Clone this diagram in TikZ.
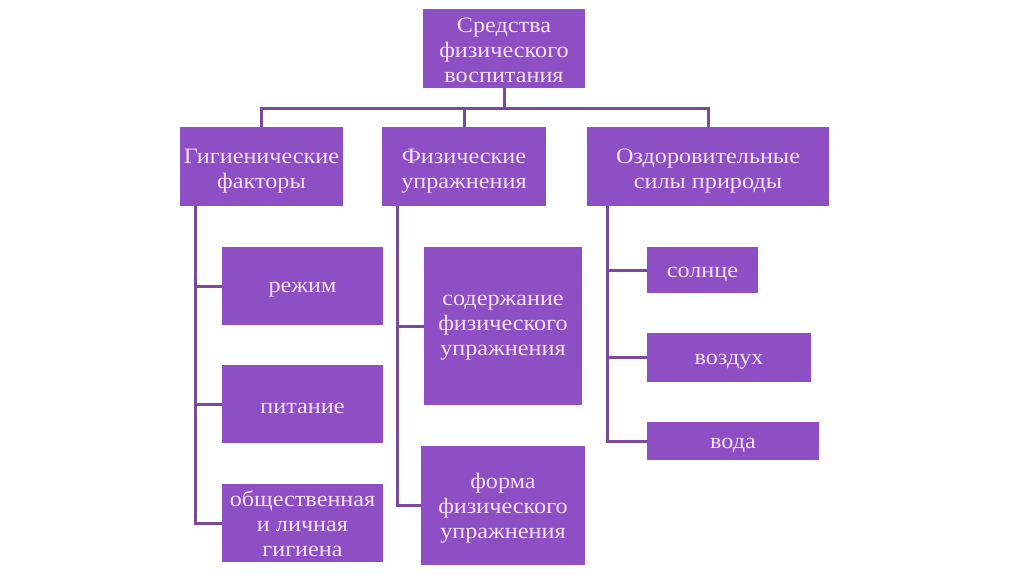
\documentclass[tikz,border=0pt]{standalone}
\usepackage{fontspec}
\setmainfont[FakeStretch=1.1]{Liberation Serif}
\definecolor{boxfill}{HTML}{8E4EC4}
\definecolor{boxtext}{HTML}{F5E0F0}
\definecolor{linec}{HTML}{7A4A9C}
\begin{document}
\begin{tikzpicture}[x=1pt,y=-1pt,
  box/.style={fill=boxfill,inner sep=0pt},
  lbl/.style={text=boxtext,inner sep=0pt,align=center,
    font=\fontsize{22}{25}\selectfont},
  conn/.style={draw=linec,line width=3pt}]
\useasboundingbox[fill=white] (0,0) rectangle (1024,574);
\node[box,minimum width=162,minimum height=79] (top) at (504,48.5) {};
\node[box,minimum width=163,minimum height=79] (L) at (261.5,166.5) {};
\node[box,minimum width=164,minimum height=79] (M) at (464,166.5) {};
\node[box,minimum width=242,minimum height=79] (R) at (708,166.5) {};
\node[box,minimum width=161,minimum height=78] (l1) at (302.5,286) {};
\node[box,minimum width=161,minimum height=78] (l2) at (302.5,404) {};
\node[box,minimum width=161,minimum height=78] (l3) at (302.5,523) {};
\node[box,minimum width=158,minimum height=158] (m1) at (503,326) {};
\node[box,minimum width=164,minimum height=119] (m2) at (503,505.5) {};
\node[box,minimum width=111,minimum height=46] (r1) at (702.5,270) {};
\node[box,minimum width=164,minimum height=49] (r2) at (729,357.5) {};
\node[box,minimum width=172,minimum height=38] (r3) at (733,441) {};
\node[lbl,yshift=-2pt] (topt) at (top.center) {Средства\\физического\\воспитания};
\node[lbl,yshift=-5pt] (Lt) at (L.center) {Гигиенические\\факторы};
\node[lbl,yshift=-5pt] (Mt) at (M.center) {Физические\\упражнения};
\node[lbl,yshift=-5pt] (Rt) at (R.center) {Оздоровительные\\силы природы};
\node[lbl,yshift=-4pt] (l1t) at (l1.center) {режим};
\node[lbl,yshift=-4pt] (l2t) at (l2.center) {питание};
\node[lbl,yshift=-1pt] (l3t) at (l3.center) {общественная\\и личная\\гигиена};
\node[lbl,yshift=-2pt] (m1t) at (m1.center) {содержание\\физического\\упражнения};
\node[lbl,yshift=-3pt] (m2t) at (m2.center) {форма\\физического\\упражнения};
\node[lbl,yshift=-4pt] (r1t) at (r1.center) {солнце};
\node[lbl,yshift=-4pt] (r2t) at (r2.center) {воздух};
\node[lbl,yshift=-4pt] (r3t) at (r3.center) {вода};
\coordinate (bus) at (504,108);
\coordinate (lt) at (195,206);
\coordinate (mt) at (397,206);
\coordinate (rt) at (607,206);
\draw[conn] (top.south) -- (bus);
\draw[conn] (L.north) -- (L.north |- bus) -- (R.north |- bus) -- (R.north);
\draw[conn] (M.north) -- (M.north |- bus);
\draw[conn] (lt) |- (l3.west);
\draw[conn] (lt |- l1.west) -- (l1.west);
\draw[conn] (lt |- l2.west) -- (l2.west);
\draw[conn] (mt) |- (m2.west);
\draw[conn] (mt |- m1.west) -- (m1.west);
\draw[conn] (rt) |- (r3.west);
\draw[conn] (rt |- r1.west) -- (r1.west);
\draw[conn] (rt |- r2.west) -- (r2.west);
\end{tikzpicture}
\end{document}
